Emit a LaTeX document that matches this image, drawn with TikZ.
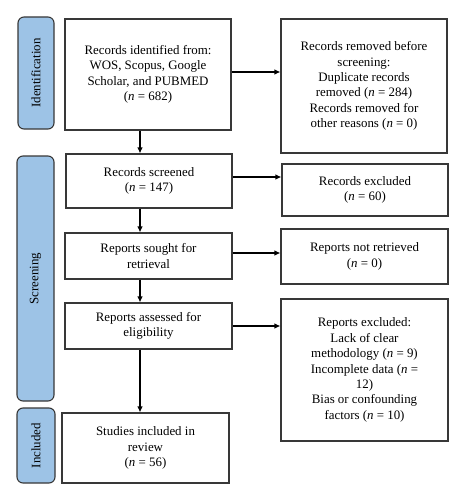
\documentclass[tikz,border=0pt]{standalone}
\usepackage{fontspec}
\setmainfont{Liberation Serif}
\usetikzlibrary{arrows.meta}
\definecolor{labfill}{HTML}{9DC3E6}
\definecolor{edge}{HTML}{383838}
\begin{document}
\begin{tikzpicture}[x=1pt,y=-1pt,
  box/.style={draw=edge,line width=1.1pt,fill=white,align=center,inner sep=2pt,
    font=\fontsize{12.9}{15.4}\selectfont},
  lab/.style={draw=edge,line width=1.1pt,fill=labfill,rounded corners=6pt,inner sep=0pt},
  labtxt/.style={rotate=90,font=\fontsize{12.9}{15}\selectfont},
  arr/.style={draw=black,line width=1.1pt,-{Latex[length=6pt,width=5.5pt]}}]
\useasboundingbox (0,0) rectangle (465,500);
% phase labels
\node[lab,minimum width=36pt,minimum height=112pt] (lid) at (36,73) {};
\node[labtxt] (tid) at (lid.center) {Identification};
\node[lab,minimum width=37pt,minimum height=245pt] (lsc) at (35.5,278.5) {};
\node[labtxt] (tsc) at (lsc.center) {Screening};
\node[lab,minimum width=38pt,minimum height=75pt] (lin) at (36,445.5) {};
\node[labtxt] (tin) at (lin.center) {Included};
% left column
\node[box,minimum width=166pt,minimum height=111pt] (b1) at (148,74.5)
  {Records identified from:\\WOS, Scopus, Google\\Scholar, and PUBMED\\(\textit{n} = 682)};
\node[box,minimum width=166pt,minimum height=54pt] (b2) at (149,181)
  {Records screened\\(\textit{n} = 147)};
\node[box,minimum width=167pt,minimum height=46pt] (b3) at (148.5,256)
  {Reports sought for\\retrieval};
\node[box,minimum width=167pt,minimum height=46pt] (b4) at (148.5,326)
  {Reports assessed for\\eligibility};
\node[box,minimum width=167pt,minimum height=70pt] (b5) at (145.5,448)
  {Studies included in\\review\\(\textit{n} = 56)};
% right column
\node[box,minimum width=166pt,minimum height=134pt] (r1) at (364,86)
  {Records removed before\\screening:\\Duplicate records\\removed (\textit{n} = 284)\\Records removed for\\other reasons (\textit{n} = 0)};
\node[box,minimum width=166pt,minimum height=52pt] (r2) at (365,190)
  {Records excluded\\(\textit{n} = 60)};
\node[box,minimum width=167pt,minimum height=55pt] (r3) at (364.5,256.5)
  {Reports not retrieved\\(\textit{n} = 0)};
\node[box,minimum width=167pt,minimum height=142pt] (r4) at (364.5,370)
  {Reports excluded:\\Lack of clear\\methodology (\textit{n} = 9)\\Incomplete data (\textit{n} =\\12)\\Bias or confounding\\factors (\textit{n} = 10)};
% vertical arrows
\draw[arr] (b1.south -| 140,0) -- (b2.north -| 140,0);
\draw[arr] (b2.south -| 140,0) -- (b3.north -| 140,0);
\draw[arr] (b3.south -| 140,0) -- (b4.north -| 140,0);
\draw[arr] (b4.south -| 140,0) -- (b5.north -| 140,0);
% horizontal arrows
\draw[arr] (b1.east |- 0,72) -- (r1.west |- 0,72);
\draw[arr] (b2.east |- 0,177) -- (r2.west |- 0,177);
\draw[arr] (b3.east |- 0,253) -- (r3.west |- 0,253);
\draw[arr] (b4.east |- 0,326) -- (r4.west |- 0,326);
\end{tikzpicture}
\end{document}
